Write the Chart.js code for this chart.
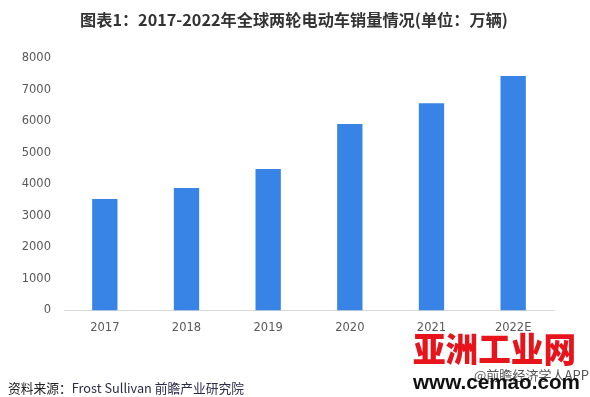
<!DOCTYPE html>
<html>
<head>
<meta charset="utf-8">
<script src="https://cdn.jsdelivr.net/npm/chart.js@4/dist/chart.umd.min.js"></script>
<style>
  html, body { margin: 0; padding: 0; background: #fff; }
  #wrap { position: relative; width: 590px; height: 397px; overflow: hidden; font-family: "Noto Sans CJK SC", "Noto Sans", sans-serif; }
  canvas { position: absolute; left: 0; top: 0; }
  .t { position: absolute; white-space: nowrap; transform-origin: 0 50%; line-height: 1; }
</style>
</head>
<body>
<div id="wrap">
  <canvas id="c" width="590" height="397"></canvas>
  <div class="t" id="title" data-w="428" style="left:80px; top:11px; font-size:16px; font-weight:bold; color:#333;">图表1：2017-2022年全球两轮电动车销量情况(单位：万辆)</div>
  <div class="t" id="src" data-w="236" style="left:8px; top:381px; font-size:13px; color:#222;">资料来源：<span style="color:#2b2b4a">Frost Sullivan 前瞻产业研究院</span></div>
  <div class="t" id="wm1" data-w="163" style="left:413px; top:331px; font-size:34px; font-weight:900; color:#e8141c;">亚洲工业网</div>
  <div class="t" id="app" data-w="115" style="left:474px; top:368px; font-size:13px; color:#555;">@前瞻经济学人APP</div>
  <div class="t" id="wm2" data-w="167" style="left:413px; top:372px; font-size:20px; font-weight:bold; color:#111; font-family:'Liberation Sans', Arial, sans-serif;">www.cemao.com</div>
</div>
<script>
const categories = ["2017", "2018", "2019", "2020", "2021", "2022E"];
const salesValues = [3530, 3880, 4480, 5910, 6570, 7430];
const yTicks = [0, 1000, 2000, 3000, 4000, 5000, 6000, 7000, 8000];

document.querySelectorAll('.t').forEach(el => {
  const target = parseFloat(el.dataset.w);
  const w = el.getBoundingClientRect().width;
  if (w > 0) el.style.transform = 'scaleX(' + (target / w) + ')';
});

new Chart(document.getElementById('c'), {
  type: 'bar',
  data: {
    labels: categories,
    datasets: [{
      data: salesValues,
      backgroundColor: '#3784E6',
      borderWidth: 0,
      barPercentage: 0.31,
      categoryPercentage: 1
    }]
  },
  options: {
    responsive: false,
    animation: false,
    devicePixelRatio: 1,
    layout: { padding: { left: 0, right: 36, top: 58, bottom: 56.5 } },
    plugins: { legend: { display: false }, tooltip: { enabled: false }, title: { display: false } },
    scales: {
      x: {
        grid: { display: false, drawTicks: false },
        border: { display: true, color: '#d9d9d9', width: 1 },
        ticks: { color: '#595959', font: { family: 'DejaVu Sans, Liberation Sans, sans-serif', size: 11.5 }, padding: 11 },
        afterFit: s => { s.height = 30; }
      },
      y: {
        min: 0, max: 8000,
        afterBuildTicks: s => { s.ticks = yTicks.map(v => ({ value: v })); },
        grid: { display: false, drawTicks: false },
        border: { display: false },
        ticks: { color: '#595959', font: { family: 'DejaVu Sans, Liberation Sans, sans-serif', size: 11.5 }, padding: 13, callback: v => String(v) },
        afterFit: s => { s.width = 64; }
      }
    }
  }
});
</script>
</body>
</html>
